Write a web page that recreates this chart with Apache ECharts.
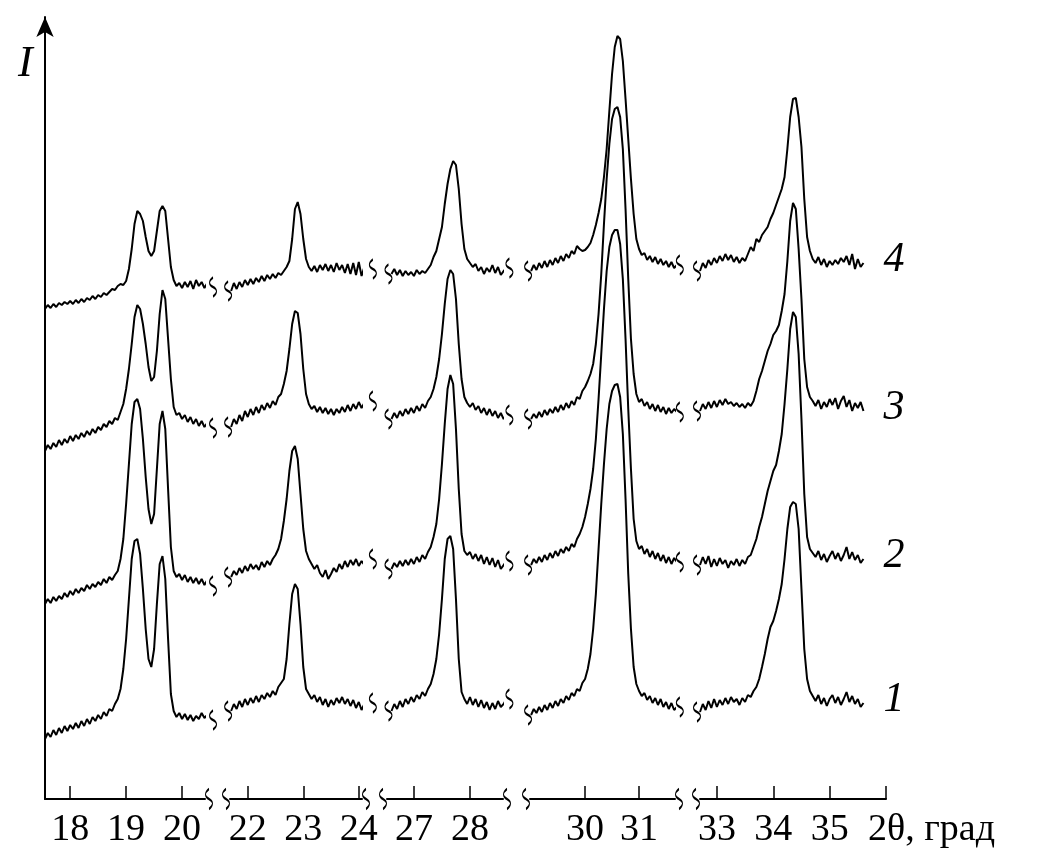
<!DOCTYPE html>
<html><head><meta charset="utf-8">
<script src="https://cdn.jsdelivr.net/npm/echarts@6/dist/echarts.min.js"></script>
<style>html,body{margin:0;padding:0;background:#fff}#c{width:1045px;height:868px}</style>
</head><body><div id="c"></div>
<script>
// ---- 2θ sample positions (degrees) for the five axis segments ----
const seg1X = [17.55,17.60,17.65,17.70,17.75,17.80,17.85,17.90,17.95,18.00,18.05,18.10,18.15,18.20,18.25,18.30,18.35,18.40,18.45,18.50,18.55,18.60,18.65,18.70,18.75,18.80,18.85,18.90,18.95,19.00,19.05,19.10,19.15,19.20,19.25,19.30,19.35,19.40,19.45,19.50,19.55,19.60,19.65,19.70,19.75,19.80,19.85,19.90,19.95,20.00,20.05,20.10,20.15,20.20,20.25,20.30,20.35,20.40,20.45,20.50];
const seg2X = [21.70,21.75,21.80,21.85,21.90,21.95,22.00,22.05,22.10,22.15,22.20,22.25,22.30,22.35,22.40,22.45,22.50,22.55,22.60,22.65,22.70,22.75,22.80,22.85,22.90,22.95,23.00,23.05,23.10,23.15,23.20,23.25,23.30,23.35,23.40,23.45,23.50,23.55,23.60,23.65,23.70,23.75,23.80,23.85,23.90,23.95,24.00,24.05,24.10,24.15,24.20];
const seg3X = [26.60,26.65,26.70,26.75,26.80,26.85,26.90,26.95,27.00,27.05,27.10,27.15,27.20,27.25,27.30,27.35,27.40,27.45,27.50,27.55,27.60,27.65,27.70,27.75,27.80,27.85,27.90,27.95,28.00,28.05,28.10,28.15,28.20,28.25,28.30,28.35,28.40,28.45,28.50,28.55,28.60,28.65];
const seg4X = [29.00,29.05,29.10,29.15,29.20,29.25,29.30,29.35,29.40,29.45,29.50,29.55,29.60,29.65,29.70,29.75,29.80,29.85,29.90,29.95,30.00,30.05,30.10,30.15,30.20,30.25,30.30,30.35,30.40,30.45,30.50,30.55,30.60,30.65,30.70,30.75,30.80,30.85,30.90,30.95,31.00,31.05,31.10,31.15,31.20,31.25,31.30,31.35,31.40,31.45,31.50,31.55,31.60,31.65,31.70];
const seg5X = [32.70,32.75,32.80,32.85,32.90,32.95,33.00,33.05,33.10,33.15,33.20,33.25,33.30,33.35,33.40,33.45,33.50,33.55,33.60,33.65,33.70,33.75,33.80,33.85,33.90,33.95,34.00,34.05,34.10,34.15,34.20,34.25,34.30,34.35,34.40,34.45,34.50,34.55,34.60,34.65,34.70,34.75,34.80,34.85,34.90,34.95,35.00,35.05,35.10,35.15,35.20,35.25,35.30,35.35,35.40,35.45,35.50,35.55,35.60];

// ---- intensities (arbitrary units, vertical offsets included) ----
// curve 1
const c1s1 = [60,66,62,69,64,71,66,73,68,74,70,76,71,78,73,80,75,82,78,84,80,87,83,90,88,95,100,110,130,160,200,240,258,260,245,210,170,140,132,150,195,235,243,220,160,105,88,82,86,80,85,79,84,78,83,80,86,81,84,79];
const c1s2 = [88,95,90,98,92,100,94,101,96,103,97,104,100,106,102,108,104,112,116,120,140,175,205,215,210,175,132,110,105,100,104,97,102,94,100,92,99,94,101,96,102,95,100,93,99,91,97,89,95,92,96];
const c1s3 = [88,95,90,98,92,100,95,102,97,104,100,107,103,110,115,125,140,165,200,240,260,263,250,200,140,107,100,95,102,94,100,92,99,91,97,89,96,90,98,92,95,100];
const c1s4 = [84,90,86,92,87,94,89,96,91,98,93,100,96,103,99,106,103,110,108,116,120,130,145,170,205,250,295,335,370,395,408,414,415,402,365,300,225,170,132,115,108,103,106,99,103,96,101,94,100,92,97,90,96,89,92];
const c1s5 = [87,95,89,98,91,100,92,99,94,101,95,102,97,100,94,101,97,104,102,108,112,120,132,145,160,172,178,188,200,215,240,270,292,297,295,270,210,150,120,108,103,98,104,95,101,93,100,104,96,102,94,100,107,97,103,95,100,92,96];
// curve 2
const c2s1 = [195,200,196,202,198,203,200,206,202,208,204,210,206,211,208,214,210,215,212,217,214,220,216,222,219,224,228,240,260,295,335,375,397,400,390,360,322,290,275,285,330,375,388,370,310,252,228,222,225,219,224,217,222,216,221,215,220,214,219,213];
const c2s2 = [222,228,224,231,226,233,228,235,230,234,229,237,232,238,234,240,244,250,260,278,300,328,348,353,340,305,270,248,240,235,230,234,226,222,229,220,225,231,227,235,230,238,232,239,234,240,233,238,234,237,240];
const c2s3 = [230,236,232,238,233,239,234,240,235,242,237,244,240,247,252,262,275,300,335,375,410,424,415,370,310,265,248,244,247,240,245,238,244,235,242,234,241,232,239,230,234,238];
const c2s4 = [234,240,236,242,237,244,239,246,241,248,243,250,246,252,248,255,252,260,265,272,282,295,310,330,360,400,445,490,528,552,564,569,569,555,520,460,390,330,280,258,250,253,245,250,242,248,240,246,238,244,236,242,235,241,237];
const c2s5 = [234,242,235,243,232,240,233,241,235,239,231,238,234,240,233,239,235,242,244,252,260,272,282,295,308,318,328,334,348,365,395,430,470,487,482,445,380,305,262,250,246,242,248,239,245,237,243,248,240,246,238,244,252,240,247,239,244,236,240];
// curve 3
const c3s1 = [348,354,350,356,352,359,354,360,356,363,358,364,360,366,362,368,364,370,366,372,369,375,372,378,375,381,379,387,395,410,430,455,482,494,490,475,455,432,418,422,448,485,509,500,460,420,392,384,386,380,384,377,382,375,380,373,378,372,376,371];
const c3s2 = [372,380,375,384,378,388,382,390,384,392,386,394,389,396,391,398,394,402,405,415,428,450,475,488,486,465,430,405,395,390,393,387,392,386,391,385,390,384,390,386,392,387,394,388,395,390,397,391,396,393,398];
const c3s3 = [380,386,381,388,383,390,385,391,386,393,388,395,391,398,402,410,422,440,465,495,520,529,525,500,455,420,402,396,392,396,389,393,386,391,384,390,383,388,381,386,380,384];
const c3s4 = [380,385,381,387,382,389,384,390,386,392,387,394,389,396,391,398,394,402,400,408,412,418,425,435,455,485,525,575,620,655,680,690,692,682,650,590,520,460,425,405,397,400,393,397,390,395,388,394,387,392,385,391,386,390,387];
const c3s5 = [388,395,390,397,391,398,392,399,394,400,395,397,393,396,392,395,391,396,393,398,408,420,428,438,448,455,464,468,474,488,505,538,578,596,590,550,500,440,412,402,398,393,399,390,397,392,400,394,401,390,398,403,392,399,388,396,391,397,388];
// curve 4
const c4s1 = [490,494,491,495,492,496,494,497,495,498,495,499,496,500,497,501,499,503,500,504,502,506,504,507,510,509,513,515,514,518,530,550,575,588,585,578,562,548,543,548,568,588,593,588,560,532,519,513,516,511,517,512,518,510,519,513,517,511,516,512];
const c4s2 = [508,516,510,517,512,519,514,520,515,521,517,523,518,524,520,525,521,526,524,528,532,538,560,590,597,585,560,540,532,528,533,527,534,529,535,528,534,527,536,529,534,526,535,525,536,524,537,523,532,526,530];
const c4s3 = [525,530,524,529,523,528,524,527,523,529,525,528,526,530,534,542,548,560,572,595,615,630,638,634,610,575,550,540,536,532,535,528,532,525,531,527,534,526,532,524,528,531];
const c4s4 = [528,534,529,536,531,538,532,539,534,541,536,543,538,545,541,548,545,553,550,548,549,552,556,564,574,586,600,622,650,688,725,752,763,760,738,700,660,620,585,560,550,544,546,539,543,537,542,535,540,534,538,532,537,531,534];
const c4s5 = [528,536,531,539,534,541,536,543,538,545,539,544,537,542,536,541,538,545,552,548,560,557,564,568,572,580,586,594,602,610,622,650,682,700,701,682,652,600,562,548,540,536,542,534,540,532,538,534,539,535,541,537,543,534,545,530,540,532,536];

const curveNames = ['1','2','3','4'];
const axisMin = [17.55, 21.68, 26.52, 28.98, 32.70];
const axisMax = [20.41, 24.058, 28.589, 31.666, 36.0];
const tickValues = [[18,19,20],[22,23,24],[27,28],[30,31],[33,34,35,36]];
const labelValues = [[18,19,20],[22,23,24],[27,28],[30,31],[33,34,35]];
const xName = '2θ, град';
const yName = 'I';

// ---- build ----
const segX = [seg1X, seg2X, seg3X, seg4X, seg5X];
const curves = [
  [c1s1,c1s2,c1s3,c1s4,c1s5],
  [c2s1,c2s2,c2s3,c2s4,c2s5],
  [c3s1,c3s2,c3s3,c3s4,c3s5],
  [c4s1,c4s2,c4s3,c4s4,c4s5]
];
curves.forEach((c,k)=>c.forEach((arr,s)=>{
  if (arr.length !== segX[s].length) throw new Error('length mismatch curve '+(k+1)+' seg '+(s+1)+': '+arr.length+' vs '+segX[s].length);
}));

const gridLeft = [45, 230, 387, 530, 700];
const gridWidth = [160, 132, 116, 145, 186];
const FONT = '"Liberation Serif","Times New Roman",serif';
const TILDE = 'path://M3,0C0,3,0,6,3,8C6,10,6,13,3,16';

const grid = gridLeft.map((l,i)=>({left:l, width:gridWidth[i], top:17, bottom:69}));
const xAxis = gridLeft.map((l,i)=>({
  type:'value', gridIndex:i, min:axisMin[i], max:axisMax[i],
  axisLine:{show:true, lineStyle:{color:'#000', width:2}},
  axisTick:{show:true, inside:true, length:13, lineStyle:{color:'#000', width:1.5}, customValues:tickValues[i]},
  axisLabel:{show:true, customValues:labelValues[i], color:'#000', fontSize:38, fontFamily:FONT, margin:12},
  splitLine:{show:false}
}));
const yAxis = gridLeft.map((l,i)=>({
  type:'value', gridIndex:i, min:0, max:782, show: i===0,
  axisLine:{show:i===0, onZero:false, lineStyle:{color:'#000', width:2}, symbol:['none','arrow'], symbolSize:[13,20]},
  axisTick:{show:false}, axisLabel:{show:false}, splitLine:{show:false}
}));

const series = [];
curves.forEach((c,k)=>{
  c.forEach((arr,s)=>{
    const ser = {
      type:'line', name:curveNames[k], xAxisIndex:s, yAxisIndex:s,
      data: segX[s].map((x,j)=>[x, arr[j]]),
      showSymbol:false, symbol:'none', clip:false, silent:true,
      lineStyle:{color:'#000', width:2}
    };
    if (s === 4) {
      ser.endLabel = {show:true, formatter:curveNames[k], color:'#000', fontSize:42, fontStyle:'italic', fontFamily:FONT, distance:20, offset:[0,-3]};
    }
    series.push(ser);
  });
});
// break marks (wavy) at segment ends, on each curve and on the axis
for (let s=0; s<5; s++) {
  const pts = [];
  curves.forEach((c)=>{
    const arr = c[s], xs = segX[s];
    if (s>0) pts.push({value:[xs[0], arr[0]], symbolOffset:[-3,0]});
    if (s<4) pts.push({value:[xs[xs.length-1], arr[arr.length-1]], symbolOffset:[3,0]});
  });
  if (s>0) pts.push({value:[axisMin[s], 0], symbolOffset:[-4,0], symbolSize:[7,20]});
  if (s<4) pts.push({value:[axisMax[s], 0], symbolOffset:[4,0], symbolSize:[7,20]});
  series.push({
    type:'scatter', xAxisIndex:s, yAxisIndex:s, data:pts, clip:false, silent:true,
    symbol:TILDE, symbolSize:[7,19], z:5,
    itemStyle:{color:'none', borderColor:'#000', borderWidth:1.6, opacity:1}
  });
}

const chart = echarts.init(document.getElementById('c'), null, {renderer:'canvas'});
chart.setOption({
  animation:false, backgroundColor:'#fff',
  grid, xAxis, yAxis, series,
  graphic:[
    {type:'text', left:18, top:42, style:{text:yName, font:'italic 44px '+FONT, fill:'#000'}},
    {type:'text', left:868, top:811, style:{text:xName, font:'38px '+FONT, fill:'#000'}}
  ]
});
</script></body></html>
